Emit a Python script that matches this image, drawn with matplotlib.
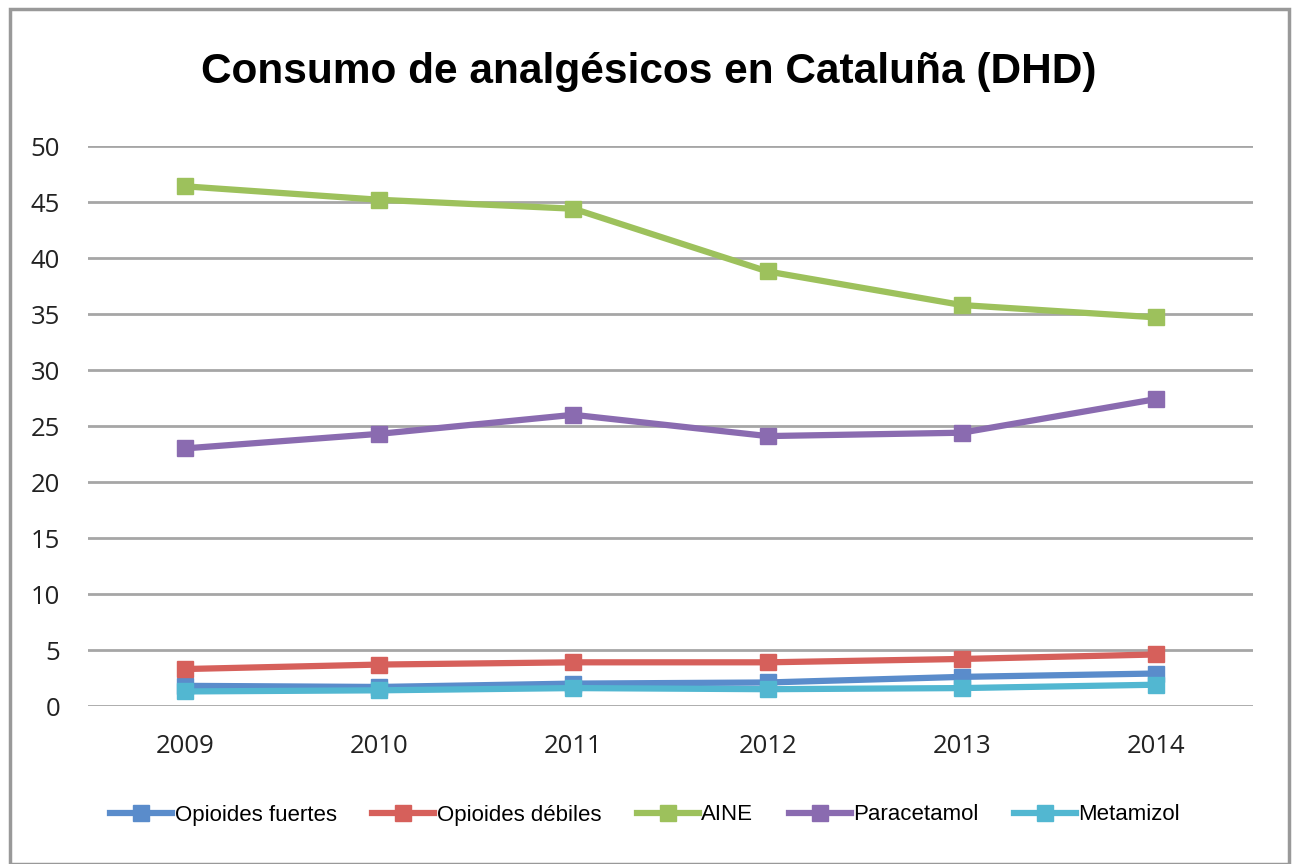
import matplotlib
matplotlib.use('Agg')
import matplotlib.pyplot as plt
from matplotlib.patches import Rectangle

years = ['2009', '2010', '2011', '2012', '2013', '2014']
opioides_fuertes = [1.8, 1.7, 2.0, 2.1, 2.6, 2.9]
opioides_debiles = [3.3, 3.7, 3.9, 3.9, 4.2, 4.6]
aine = [46.4, 45.2, 44.4, 38.8, 35.8, 34.7]
paracetamol = [23.0, 24.3, 26.0, 24.1, 24.4, 27.4]
metamizol = [1.3, 1.4, 1.6, 1.5, 1.6, 1.9]

series = [('Opioides fuertes', opioides_fuertes, '#5a8ccb'),
          ('Opioides débiles', opioides_debiles, '#d6605b'),
          ('AINE', aine, '#9dc15c'),
          ('Paracetamol', paracetamol, '#8a6bb0'),
          ('Metamizol', metamizol, '#52b7d1')]

fig = plt.figure(figsize=(12.98, 8.64), dpi=100)
fig.patches.append(Rectangle((0.008, 0.0), 0.985, 0.99, transform=fig.transFigure,
                             fill=False, edgecolor='#999999', linewidth=2.5))

ax = fig.add_axes([88/1298, 1 - 706/864, (1253-88)/1298, (706-146)/864])
x = range(len(years))
for name, vals, col in series:
    ax.plot(x, vals, color=col, lw=4.5, marker='s', ms=11, label=name, zorder=3)

ax.set_xlim(-0.5, len(years) - 0.5)
ax.set_ylim(0, 50)
ax.set_yticks(range(0, 51, 5))
ax.set_xticks(list(x))
ax.set_xticklabels(years)
ax.yaxis.grid(True, color='#a6a6a6', lw=2)
ax.set_axisbelow(True)
for s in ax.spines.values():
    s.set_visible(False)
ax.tick_params(length=0, labelsize=18.5, labelcolor='#222222')
ax.tick_params(axis='y', pad=20)
ax.tick_params(axis='x', pad=20)
for t in ax.get_xticklabels() + ax.get_yticklabels():
    t.set_family('Open Sans')

fig.text(0.5, 1 - 72/864, 'Consumo de analgésicos en Cataluña (DHD)', ha='center', va='center',
         fontsize=30.5, fontweight='bold', family='Liberation Sans')

leg = fig.legend(loc='center', bbox_to_anchor=(0.497, 1 - 815/864), ncol=5, frameon=False,
                 handlelength=2.8, handletextpad=0.1, columnspacing=1.6,
                 prop={'family': 'Liberation Sans', 'size': 16})

fig.savefig('out.png', dpi=100)
